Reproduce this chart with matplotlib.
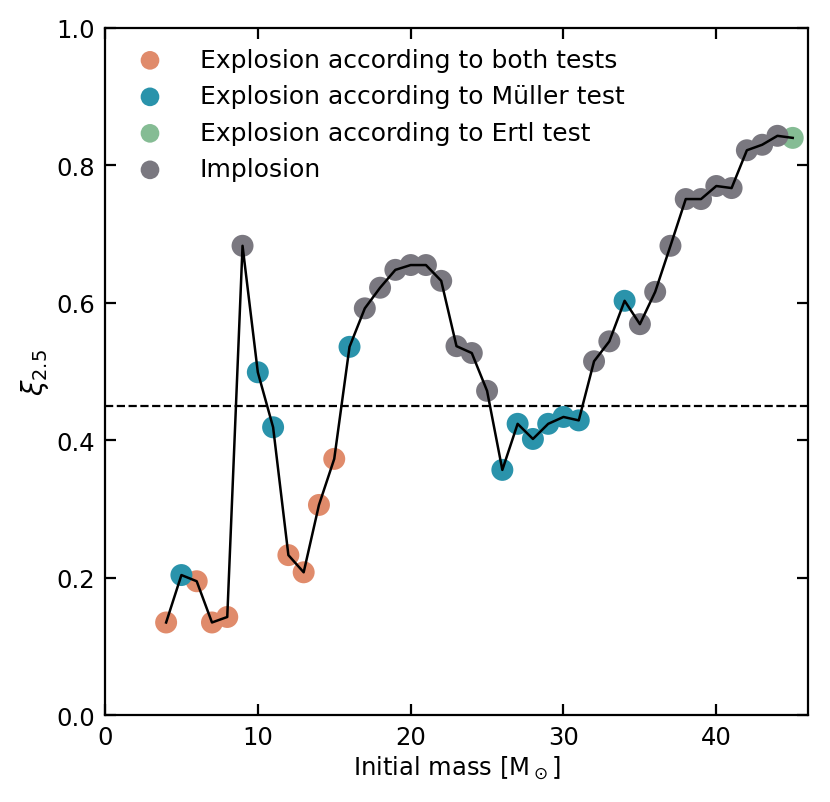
import numpy as np
import matplotlib
matplotlib.use('Agg')
import matplotlib.pyplot as plt

# initial masses and compactness values
mass = list(range(4, 46))
xi = [0.135, 0.204, 0.195, 0.135, 0.143, 0.683, 0.499, 0.419, 0.233, 0.208,
      0.306, 0.373, 0.536, 0.592, 0.622, 0.648, 0.655, 0.655, 0.632, 0.537,
      0.527, 0.472, 0.357, 0.424, 0.402, 0.424, 0.434, 0.429, 0.515, 0.544,
      0.603, 0.569, 0.616, 0.683, 0.751, 0.751, 0.770, 0.767, 0.822, 0.830,
      0.843, 0.840]
# outcome: b = both tests, m = Mueller only, e = Ertl only, i = implosion
outcome = ['b', 'm', 'b', 'b', 'b', 'i', 'm', 'm', 'b', 'b',
           'b', 'b', 'm', 'i', 'i', 'i', 'i', 'i', 'i', 'i',
           'i', 'i', 'm', 'm', 'm', 'm', 'm', 'm', 'i', 'i',
           'm', 'i', 'i', 'i', 'i', 'i', 'i', 'i', 'i', 'i',
           'i', 'e']
threshold = 0.45

labels = {'b': 'Explosion according to both tests',
          'm': 'Explosion according to Müller test',
          'e': 'Explosion according to Ertl test',
          'i': 'Implosion'}
colors = {'b': '#e08b6b', 'm': '#2a93ab', 'e': '#85bc94', 'i': '#7a7880'}

plt.rcParams['font.size'] = 17.5
plt.rcParams['axes.linewidth'] = 1.6

fig, ax = plt.subplots(figsize=(8.3, 8.03), dpi=100)
fig.subplots_adjust(left=0.1265, right=0.9735, top=0.964, bottom=0.108)

mass = np.array(mass)
xi = np.array(xi)
outcome = np.array(outcome)
for key in ['b', 'm', 'e', 'i']:
    sel = outcome == key
    ax.scatter(mass[sel], xi[sel], s=250, color=colors[key], label=labels[key],
               edgecolors='none', zorder=2)

ax.plot(mass, xi, color='black', lw=1.8, zorder=3)
ax.axhline(threshold, color='black', ls='--', lw=1.6, zorder=1)

ax.set_xlim(0, 46)
ax.set_ylim(0, 1)
ax.set_yticks([0, 0.2, 0.4, 0.6, 0.8, 1.0])
ax.tick_params(direction='in', length=8, width=1.6, top=True, right=True, pad=7)
ax.set_xlabel(r'Initial mass [M$_\odot$]', labelpad=3)
ax.set_ylabel(r'$\xi_{2.5}$', fontsize=20, labelpad=4)
ax.legend(loc='upper left', frameon=False, handletextpad=1.0, borderaxespad=0.4,
          labelspacing=0.5, markerscale=0.85, fontsize=18)

fig.savefig('out.png', dpi=100)
